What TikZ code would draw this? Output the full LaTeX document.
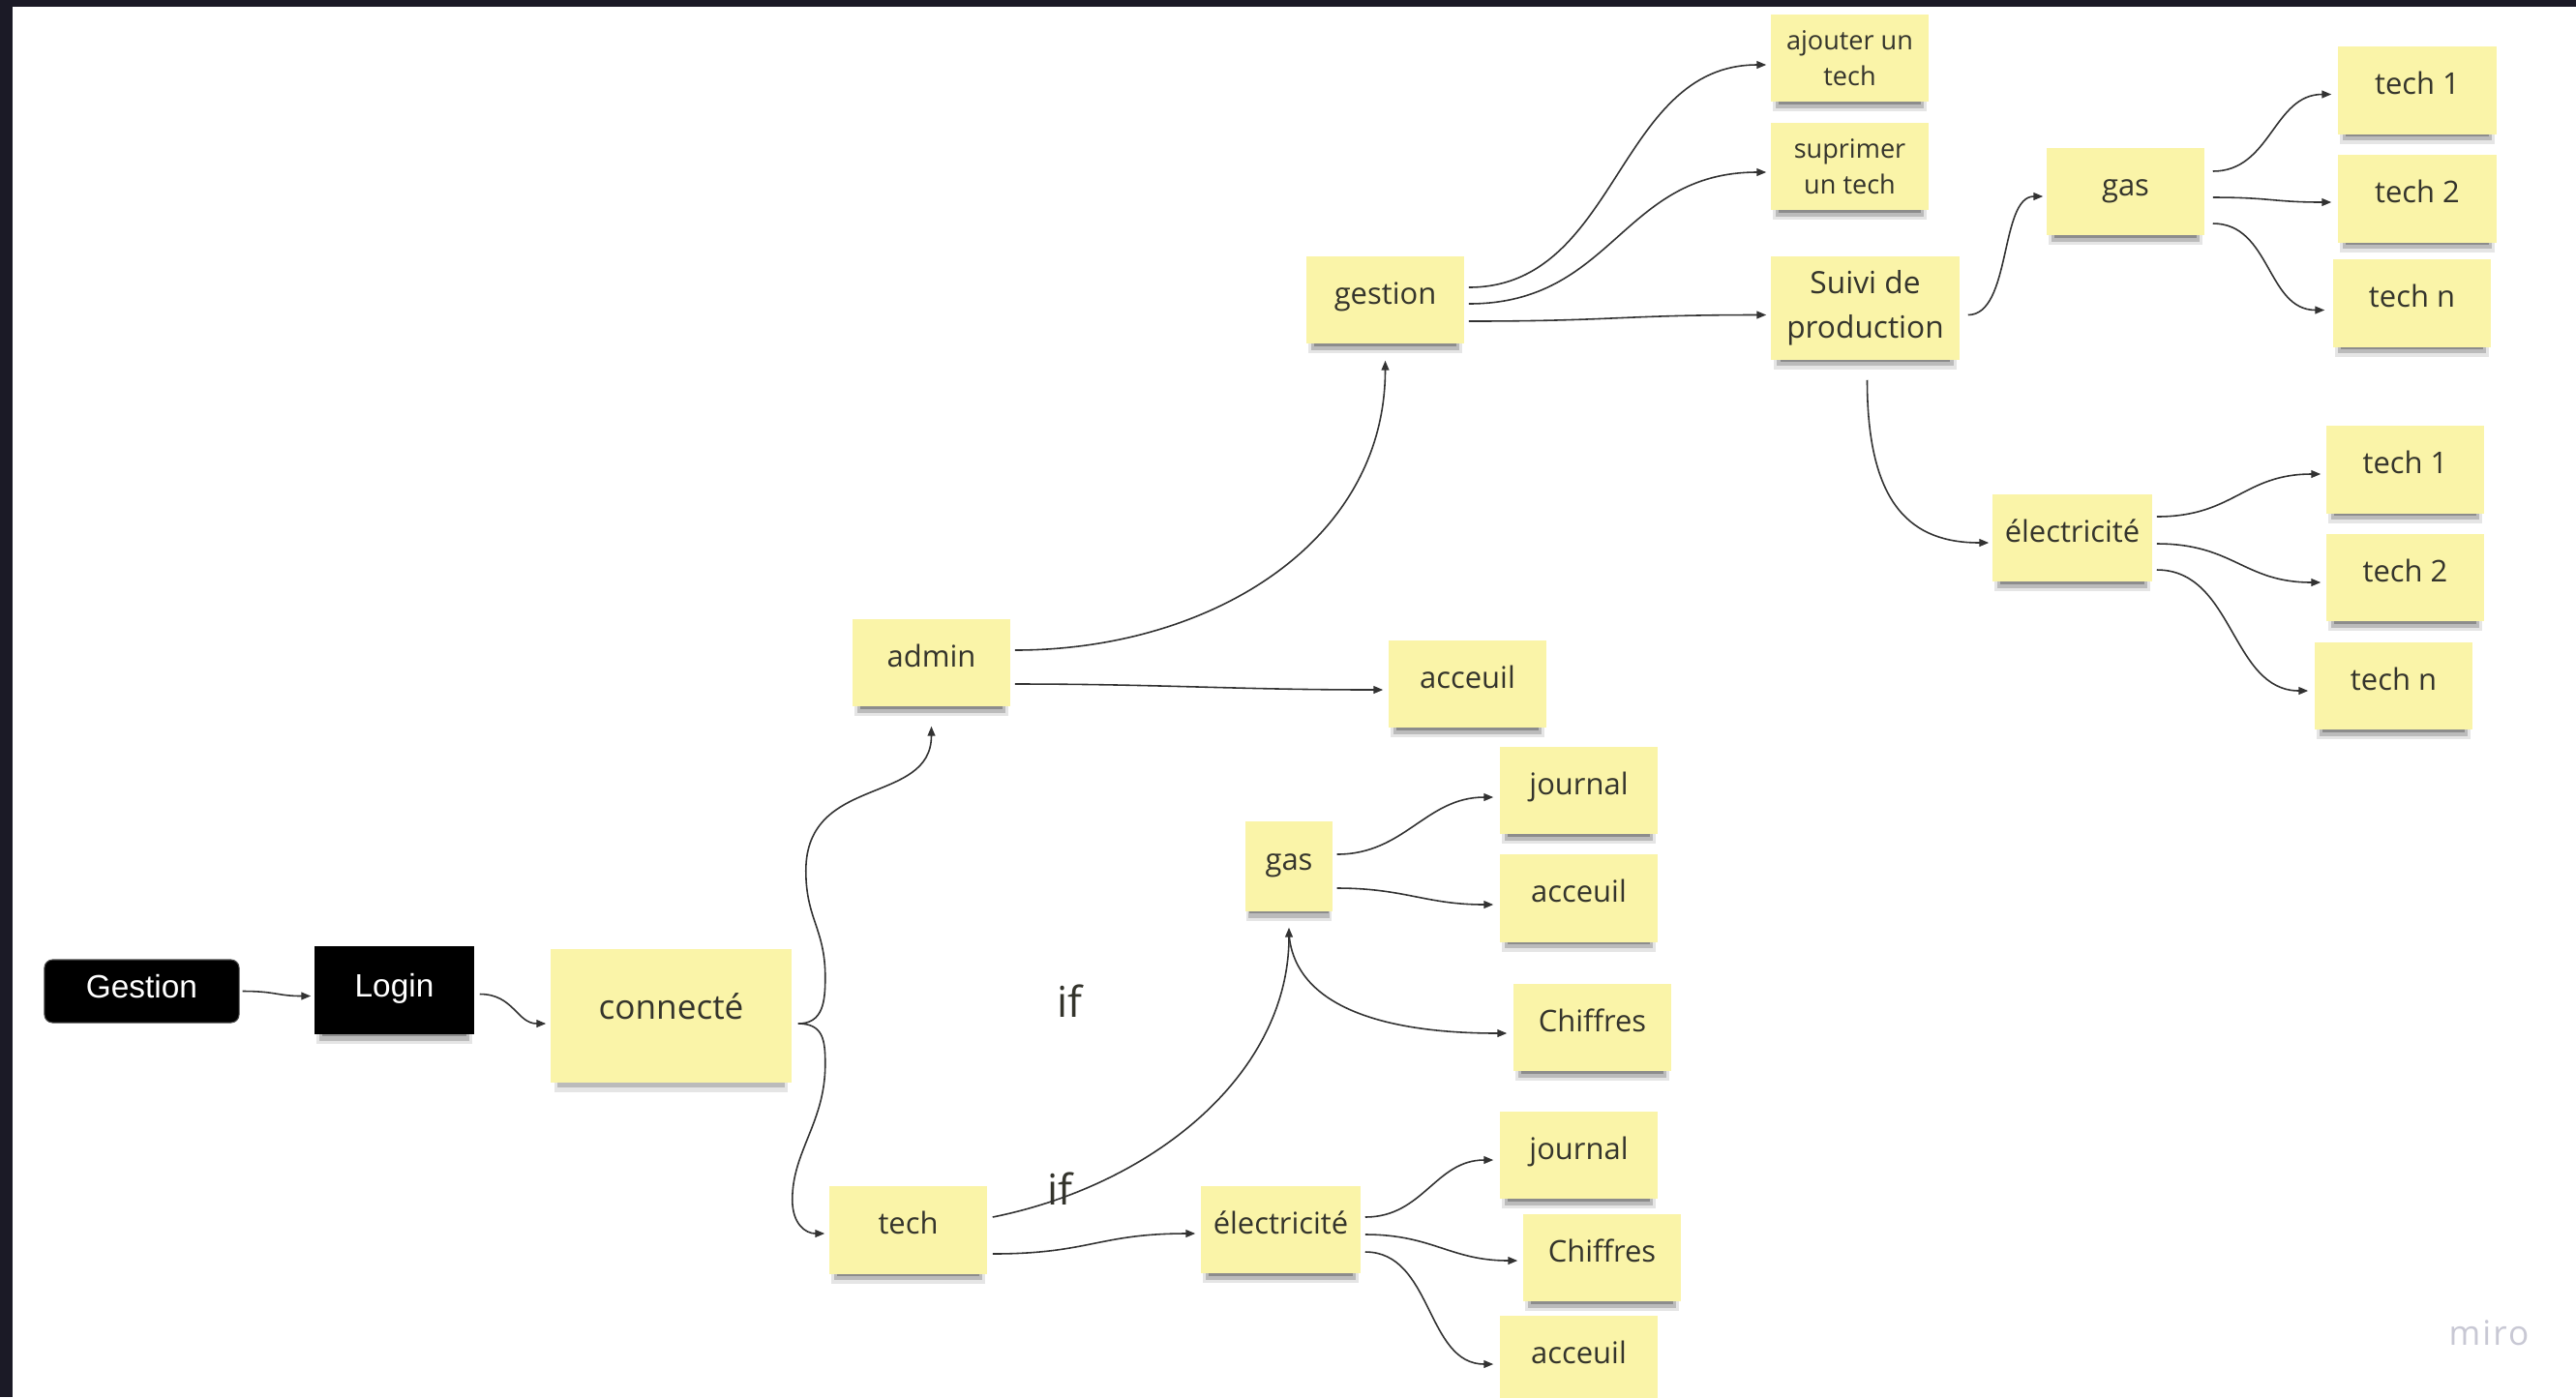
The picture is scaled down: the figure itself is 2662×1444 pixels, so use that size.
\documentclass[tikz,border=0pt]{standalone}
\usepackage{fontspec}
\setmainfont{Open Sans}
\newfontfamily\arialf{Liberation Sans}
\usetikzlibrary{arrows.meta,shadows,calc}
\definecolor{stickyY}{RGB}{250,244,168}
\definecolor{ink}{RGB}{52,52,44}
\definecolor{linec}{RGB}{50,50,50}
\definecolor{framec}{RGB}{27,26,38}
\definecolor{mirog}{RGB}{200,200,212}
\tikzset{
  nshadow/.style={
    general shadow={fill=black, opacity=0.10, shadow yshift=-3.4pt, shadow scale=0.97},
    general shadow={fill=black, opacity=0.18, shadow yshift=-2.8pt, shadow scale=0.94},
    general shadow={fill=black, opacity=0.25, shadow yshift=-2.2pt, shadow scale=0.90}},
  sticky/.style={rectangle, fill=stickyY, text=ink, inner sep=0pt, align=center,
    minimum width=1.63cm, minimum height=0.9cm, font=\fontsize{8.8}{11}\selectfont, nshadow},
  st/.style={sticky, text height=6.6pt, text depth=4.3pt},
  blackbox/.style={rectangle, fill=black, text=white, inner sep=0pt,
    text height=6.8pt, text depth=2.8pt, font=\arialf\fontsize{9.5}{11}\selectfont},
  conn/.style={draw=linec, line width=0.45pt, -{Triangle[length=2.8pt,width=2.2pt]}},
  plain/.style={text=ink, inner sep=0pt},
}
\begin{document}
\begin{tikzpicture}[x=0.01cm, y=-0.01cm]
\useasboundingbox (0,0) rectangle (2662,1444);
\fill[framec] (0,0) rectangle (2662,1444);
\fill[white] (13,7) rectangle (2662,1444);

% left chain
\node[blackbox, draw=black!70, line width=0.3pt, rounded corners=2.4pt, minimum width=2.01cm, minimum height=0.65cm] (g0) at (146.5,1024.5) {Gestion};
\node[blackbox, minimum width=1.65cm, minimum height=0.91cm, nshadow] (login) at (407.5,1023.5) {Login};
\node[st, minimum width=2.49cm, minimum height=1.38cm, text height=7.4pt, text depth=5.2pt, font=\fontsize{10}{12}\selectfont] (conn) at (693.5,1050) {connecté};
\node[st] (admin) at (962.5,685) {admin};
\node[st] (tech) at (938.5,1271.5) {tech};

% admin branch
\node[st] (gestion) at (1431.5,310) {gestion};
\node[st] (accA) at (1516.5,707) {acceuil};
\node[sticky, font=\fontsize{7.7}{10.6}\selectfont] (ajout) at (1911.5,60) {ajouter un\\tech};
\node[sticky, font=\fontsize{7.7}{10.6}\selectfont] (suppr) at (1911.5,172) {suprimer\\un tech};
\node[sticky, minimum width=1.95cm, minimum height=1.07cm, font=\fontsize{9}{13}\selectfont] (suivi) at (1927.5,318.5) {Suivi de\\production};
\node[st] (gasA) at (2196.5,198) {gas};
\node[st, minimum width=1.64cm] (t1A) at (2498,93.5) {tech 1};
\node[st, minimum width=1.64cm] (t2A) at (2498,205.5) {tech 2};
\node[st] (tnA) at (2492.5,313.5) {tech n};
\node[st, minimum width=1.65cm] (elecA) at (2141.5,556) {électricité};
\node[st] (t1B) at (2485.5,485.5) {tech 1};
\node[st] (t2B) at (2485.5,597) {tech 2};
\node[st] (tnB) at (2473.5,709) {tech n};

% tech branch
\node[st, minimum width=0.9cm, minimum height=0.93cm] (gasB) at (1332,895.5) {gas};
\node[st] (jB) at (1631.5,817) {journal};
\node[st] (accB) at (1631.5,928.5) {acceuil};
\node[st] (chB) at (1645.5,1062) {Chiffres};
\node[st, minimum width=1.65cm] (elecC) at (1323.5,1271) {électricité};
\node[st] (jC) at (1631.5,1194) {journal};
\node[st] (chC) at (1655.5,1300) {Chiffres};
\node[st] (accC) at (1631.5,1405) {acceuil};

% free texts
\node[plain, font=\fontsize{12.5}{14}\selectfont] (if1) at (1105,1035) {if};
\node[plain, font=\fontsize{12.5}{14}\selectfont] (if2) at (1095,1229) {if};
\node[text=mirog, inner sep=0pt, font=\fontsize{10}{12}\selectfont\addfontfeatures{LetterSpace=6}] (miro) at (2572,1378) {miro};

% connectors
\draw[conn] ($(g0.east)+(3,0)$) .. controls +(35,0) and +(-35,0) .. ($(login.west)+(-3,6)$);
\draw[conn] ($(login.east)+(5,4)$) .. controls +(35,0) and +(-30,0) .. ($(conn.west)+(-4,8)$);
\draw[conn] ($(conn.east)+(6,8)$) .. controls +(26,0) and +(0,25) .. ++(28,-48)
   .. controls +(0,-50) and +(0,50) .. ++(-20,-110)
   .. controls +(0,-100) and +(0,82) .. ($(admin.south)+(0,20)$);
\draw[conn] ($(conn.east)+(6,8)$) .. controls +(26,0) and +(0,-25) .. ++(28,42)
   .. controls +(0,60) and +(0,-50) .. ++(-34,140)
   .. controls +(0,25) and +(-20,0) .. ($(tech.west)+(-4,3.5)$);

\draw[conn] ($(admin.east)+(4,-13)$) .. controls +(202,0) and +(0,188) .. ($(gestion.south)+(0,17)$);
\draw[conn] ($(admin.east)+(4,22)$) .. controls +(150,0) and +(-150,0) .. ($(accA.west)+(-5,6)$);

\draw[conn] ($(gestion.east)+(4,-13)$) .. controls +(155,0) and +(-155,0) .. ($(ajout.west)+(-4,7)$);
\draw[conn] ($(gestion.east)+(4,4)$) .. controls +(150,0) and +(-150,0) .. ($(suppr.west)+(-4,6)$);
\draw[conn] ($(gestion.east)+(4,22)$) .. controls +(150,0) and +(-150,0) .. ($(suivi.west)+(-4,7)$);

\draw[conn] ($(suivi.east)+(8,7)$) .. controls +(45,0) and +(-45,0) .. ($(gasA.west)+(-3,5)$);
\draw[conn] ($(suivi.south)+(2,20)$) .. controls +(0,130) and +(-80,0) .. ($(elecA.west)+(-3,5)$);

\draw[conn] ($(gasA.east)+(8,-21)$) .. controls +(60,0) and +(-60,0) .. ($(t1A.west)+(-6,4)$);
\draw[conn] ($(gasA.east)+(8,6)$) .. controls +(60,0) and +(-60,0) .. ($(t2A.west)+(-6,3.5)$);
\draw[conn] ($(gasA.east)+(8,33)$) .. controls +(60,0) and +(-60,0) .. ($(tnA.west)+(-8,7)$);

\draw[conn] ($(elecA.east)+(4,-22)$) .. controls +(80,0) and +(-80,0) .. ($(t1B.west)+(-5,4.5)$);
\draw[conn] ($(elecA.east)+(4,6)$) .. controls +(80,0) and +(-80,0) .. ($(t2B.west)+(-5,5)$);
\draw[conn] ($(elecA.east)+(4,33)$) .. controls +(80,0) and +(-80,0) .. ($(tnB.west)+(-6,5)$);

\draw[conn] ($(tech.east)+(5,-13.5)$) .. controls +(165,-33) and +(0,152) .. ($(gasB.south)+(0,16)$);
\draw[conn] ($(gasB.south)+(0,22)$) .. controls +(5,70) and +(-140,0) .. ($(chB.west)+(-6,6)$);
\draw[conn] ($(gasB.east)+(4,-12.5)$) .. controls +(70,0) and +(-70,0) .. ($(jB.west)+(-6,7)$);
\draw[conn] ($(gasB.east)+(4,22.5)$) .. controls +(70,0) and +(-70,0) .. ($(accB.west)+(-6,6.5)$);

\draw[conn] ($(tech.east)+(5,24.5)$) .. controls +(100,0) and +(-100,0) .. ($(elecC.west)+(-5,4)$);
\draw[conn] ($(elecC.east)+(4,-13)$) .. controls +(60,0) and +(-60,0) .. ($(jC.west)+(-6,5)$);
\draw[conn] ($(elecC.east)+(4,5)$) .. controls +(70,0) and +(-70,0) .. ($(chC.west)+(-5,3)$);
\draw[conn] ($(elecC.east)+(4,23)$) .. controls +(70,0) and +(-70,0) .. ($(accC.west)+(-6,5)$);
\end{tikzpicture}
\end{document}
